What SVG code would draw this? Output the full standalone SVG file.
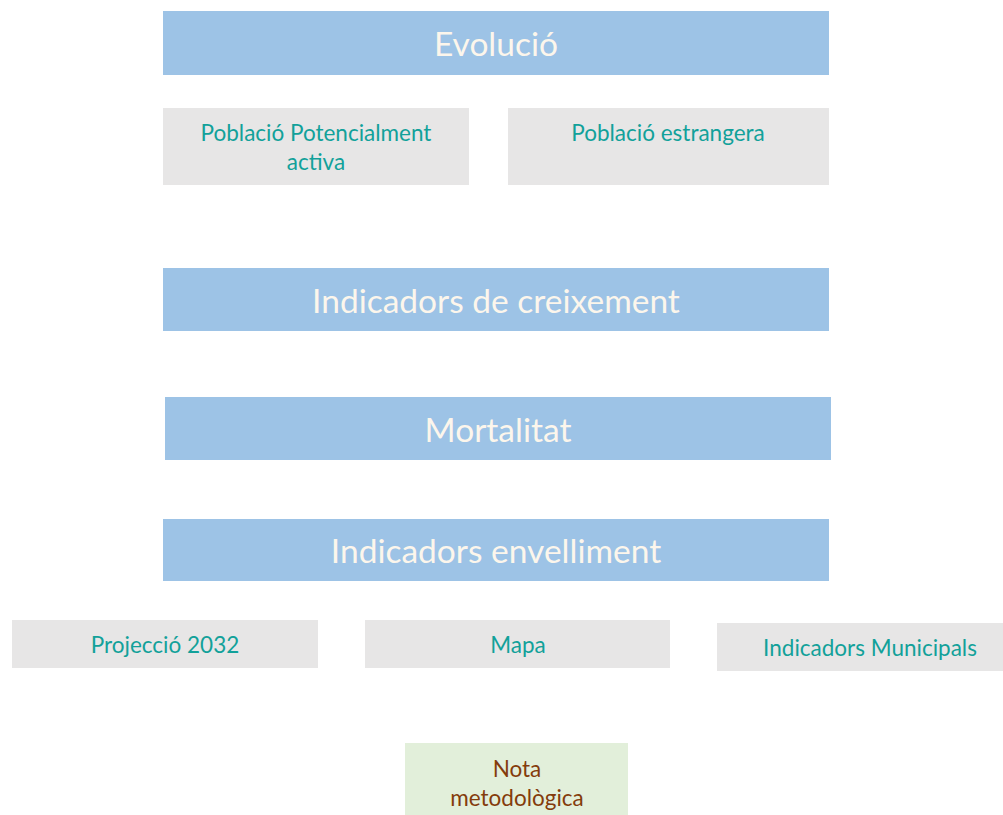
<svg xmlns="http://www.w3.org/2000/svg" width="1003" height="815" viewBox="0 0 1003 815">
<style>
.hdr{fill:#9DC3E6}
.sub{fill:#E7E6E6}
.note{fill:#E2EFDA}
.ht{font-family:Lato,"Open Sans",sans-serif;font-size:33.5px;fill:#FCF6EC;text-anchor:middle}
.st{font-family:Lato,"Open Sans",sans-serif;font-size:22.5px;fill:#12A19A;text-anchor:middle}
.nt{font-family:Lato,"Open Sans",sans-serif;font-size:22.5px;fill:#843C0C;text-anchor:middle}
</style>
<rect width="1003" height="815" fill="#FFFFFF"/>
<g id="evolucio"><rect class="hdr" x="163" y="11" width="666" height="64"/><text class="ht" x="496" y="56">Evolució</text></g>
<g id="poblacio-activa"><rect class="sub" x="163" y="108" width="306" height="77"/><text class="st" x="316" y="141">Població Potencialment</text><text class="st" x="316" y="170">activa</text></g>
<g id="poblacio-estrangera"><rect class="sub" x="508" y="108" width="321" height="77"/><text class="st" x="668" y="141">Població estrangera</text></g>
<g id="creixement"><rect class="hdr" x="163" y="268" width="666" height="63"/><text class="ht" x="496" y="313">Indicadors de creixement</text></g>
<g id="mortalitat"><rect class="hdr" x="165" y="397" width="666" height="63"/><text class="ht" x="498" y="442">Mortalitat</text></g>
<g id="envelliment"><rect class="hdr" x="163" y="519" width="666" height="62"/><text class="ht" x="496" y="563">Indicadors envelliment</text></g>
<g id="projeccio"><rect class="sub" x="12" y="620" width="306" height="48"/><text class="st" x="165" y="653">Projecció 2032</text></g>
<g id="mapa"><rect class="sub" x="365" y="620" width="305" height="48"/><text class="st" x="518" y="653">Mapa</text></g>
<g id="municipals"><rect class="sub" x="717" y="623" width="286" height="48"/><text class="st" x="870" y="656">Indicadors Municipals</text></g>
<g id="nota"><rect class="note" x="405" y="743" width="223" height="72"/><text class="nt" x="517" y="777">Nota</text><text class="nt" x="517" y="806">metodològica</text></g>
<g id="connectors"></g>
</svg>
